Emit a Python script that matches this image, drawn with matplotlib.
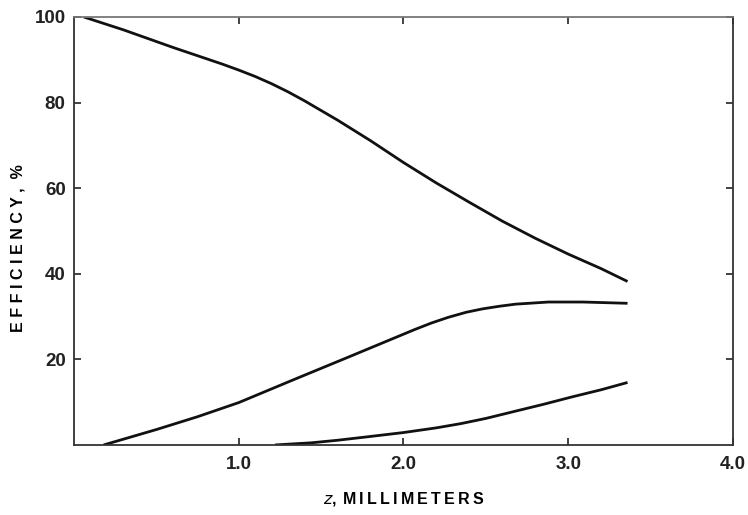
import matplotlib
matplotlib.use("Agg")
import matplotlib.pyplot as plt

plt.rcParams['font.family'] = ['Liberation Sans', 'DejaVu Sans']

# Curve readings (z in mm, efficiency in %)
z_top = [0.06, 0.3, 0.6, 0.8, 0.9, 1.0, 1.1, 1.2, 1.3, 1.4, 1.6, 1.8, 2.0, 2.2, 2.4, 2.6, 2.8, 3.0, 3.2, 3.36]
eff_top = [100, 97.0, 92.9, 90.3, 89.0, 87.6, 86.1, 84.4, 82.5, 80.4, 75.9, 71.1, 66.0, 61.2, 56.7, 52.3, 48.3, 44.6, 41.2, 38.2]

z_mid = [0.18, 0.5, 0.75, 1.0, 1.33, 1.67, 1.87, 2.07, 2.17, 2.27, 2.38, 2.48, 2.58, 2.68, 2.88, 3.09, 3.36]
eff_mid = [0, 3.6, 6.6, 9.9, 15.2, 20.6, 23.8, 27.0, 28.5, 29.8, 31.0, 31.8, 32.4, 32.9, 33.4, 33.4, 33.1]

z_low = [1.22, 1.44, 1.6, 1.78, 2.0, 2.2, 2.35, 2.5, 2.68, 2.85, 3.02, 3.2, 3.36]
eff_low = [0, 0.5, 1.1, 1.9, 2.9, 4.0, 5.0, 6.2, 7.9, 9.5, 11.2, 12.9, 14.6]

x_ticks = [1.0, 2.0, 3.0, 4.0]
x_ticklabels = ["1.0", "2.0", "3.0", "4.0"]
y_ticks = [20, 40, 60, 80, 100]
y_ticklabels = ["20", "40", "60", "80", "100"]

fig = plt.figure(figsize=(7.48, 5.15), dpi=100)
ax = fig.add_axes([0.0989, 0.136, 0.881, 0.831])

for zz, ee in [(z_top, eff_top), (z_mid, eff_mid), (z_low, eff_low)]:
    ax.plot(zz, ee, color='#111111', lw=2.0, solid_capstyle='butt',
            solid_joinstyle='round')

ax.set_xlim(0, 4.0)
ax.set_ylim(0, 100)
ax.set_xticks(x_ticks)
ax.set_xticklabels(x_ticklabels)
ax.set_yticks(y_ticks)
ax.set_yticklabels(y_ticklabels)

ax.tick_params(direction='in', length=5, width=1.2, top=True, right=True,
               labelsize=13.5, colors='#222222')
ax.tick_params(axis='y', pad=6)
ax.tick_params(axis='x', pad=8)
for lab in ax.get_xticklabels() + ax.get_yticklabels():
    lab.set_fontweight('bold')

for s in ax.spines.values():
    s.set_linewidth(1.3)
    s.set_color('#333333')
ax.spines['top'].set_color('#777777')

ylab = " ".join("EFFICIENCY,") + "  %"
ax.set_ylabel(ylab, fontsize=11.5, fontweight='bold')
ax.yaxis.set_label_coords(-0.074, 0.46)
sp = '\u2009'
xlab = "$\\it{z}$," + sp + sp + sp.join("MILLIMETERS")
ax.set_xlabel(xlab, fontsize=11.5, fontweight='bold', labelpad=12)

fig.savefig("out.png", dpi=100)
